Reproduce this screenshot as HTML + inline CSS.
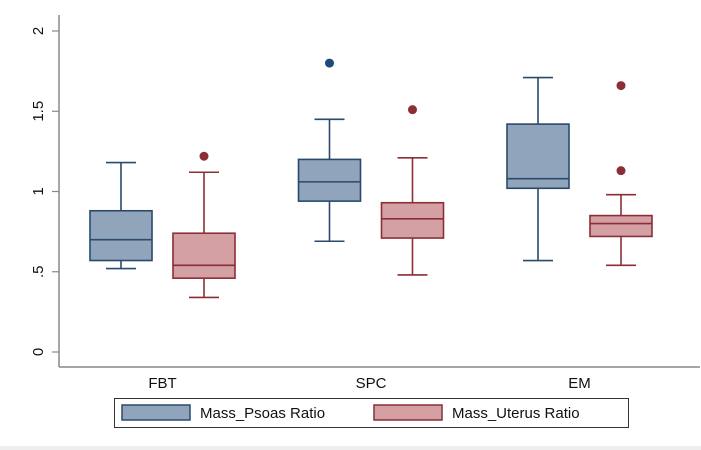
<!DOCTYPE html>
<html><head><meta charset="utf-8"><style>
html,body{margin:0;padding:0;background:#fff;}
svg{display:block;font-family:"Liberation Sans",sans-serif;}
</style></head><body>
<svg id="chart" width="701" height="450">
<rect x="0" y="446" width="701" height="4" fill="#eeeeee"/>
<g id="yaxis"></g>
<g id="boxes"></g>
<line x1="59" y1="15" x2="59" y2="367" stroke="#888" stroke-width="1.5"/>
<line x1="59" y1="367" x2="700" y2="367" stroke="#888" stroke-width="1.5"/>
<g id="xlabels"></g>
<g>
<rect x="114.5" y="398.5" width="514" height="29" fill="#fff" stroke="#333" stroke-width="1"/>
<g>
<rect x="122" y="405" width="68" height="15" fill="#90a4bc" stroke="#2a4a6b" stroke-width="1.5"/>
<text x="200" y="418" font-size="15" fill="#111">Mass_Psoas Ratio</text>
</g>
<g>
<rect x="374" y="405" width="68" height="15" fill="#d4a0a4" stroke="#8b2e35" stroke-width="1.5"/>
<text x="452" y="418" font-size="15" fill="#111">Mass_Uterus Ratio</text>
</g>
</g>
</svg>
<script>
const categories = ["FBT","SPC","EM"];
const yTicks = [0, 0.5, 1, 1.5, 2];
const yTickLabels = ["0", ".5", "1", "1.5", "2"];
// [low whisker, Q1, median, Q3, high whisker]
const psoasStats = [[0.52,0.57,0.70,0.88,1.18],[0.69,0.94,1.06,1.20,1.45],[0.57,1.02,1.08,1.42,1.71]];
const uterusStats = [[0.34,0.46,0.54,0.74,1.12],[0.48,0.71,0.83,0.93,1.21],[0.54,0.72,0.80,0.85,0.98]];
const psoasOutliers = [[],[1.80],[]];
const uterusOutliers = [[1.22],[1.51],[1.66,1.13]];

const NS="http://www.w3.org/2000/svg";
function y(v){return 352 - v*160.5;}
function xc(i,s){return 121 + i*208.5 + s*83;}
function mk(tag,attrs,parent){const e=document.createElementNS(NS,tag);for(const k in attrs)e.setAttribute(k,attrs[k]);parent.appendChild(e);return e;}
const ya=document.getElementById('yaxis');
yTicks.forEach((t,i)=>{
  const l=mk('line',{x1:52,x2:59,y1:y(t),y2:y(t),stroke:'#888','stroke-width':1.2},ya);
  
  
  const tx=mk('text',{x:0,y:0,'font-size':15,fill:'#111','text-anchor':'middle',transform:`translate(43,${y(t)}) rotate(-90)`},ya);
  tx.textContent=yTickLabels[i];
  
  
});
const xl=document.getElementById('xlabels');
categories.forEach((c,i)=>{
  const t=mk('text',{x:(xc(i,0)+xc(i,1))/2,y:388,'font-size':15,fill:'#111','text-anchor':'middle'},xl);
  t.textContent=c;
  
  
});
const bx=document.getElementById('boxes');
const series=[{stats:psoasStats,out:psoasOutliers,fill:'#90a4bc',stroke:'#2a4a6b',dot:'#1d4a78',name:'psoas'},
              {stats:uterusStats,out:uterusOutliers,fill:'#d4a0a4',stroke:'#8b2e35',dot:'#8b2e35',name:'uterus'}];
series.forEach((s,si)=>{
  s.stats.forEach((st,i)=>{
    const cx=xc(i,si), hw=31;
    const g=mk('g',{},bx);
    
    
    const a={stroke:s.stroke,'stroke-width':1.6};
    mk('line',Object.assign({x1:cx,x2:cx,y1:y(st[0]),y2:y(st[1])},a),g);
    mk('line',Object.assign({x1:cx,x2:cx,y1:y(st[3]),y2:y(st[4])},a),g);
    mk('line',Object.assign({x1:cx-15,x2:cx+15,y1:y(st[0]),y2:y(st[0])},a),g);
    mk('line',Object.assign({x1:cx-15,x2:cx+15,y1:y(st[4]),y2:y(st[4])},a),g);
    mk('rect',Object.assign({x:cx-hw,y:y(st[3]),width:2*hw,height:y(st[1])-y(st[3]),fill:s.fill},a),g);
    mk('line',Object.assign({x1:cx-hw,x2:cx+hw,y1:y(st[2]),y2:y(st[2])},a),g);
    s.out[i].forEach(v=>{
      const c=mk('circle',{cx:cx,cy:y(v),r:4.5,fill:s.dot},bx);
      
      
    });
  });
});
</script>
</body></html>
